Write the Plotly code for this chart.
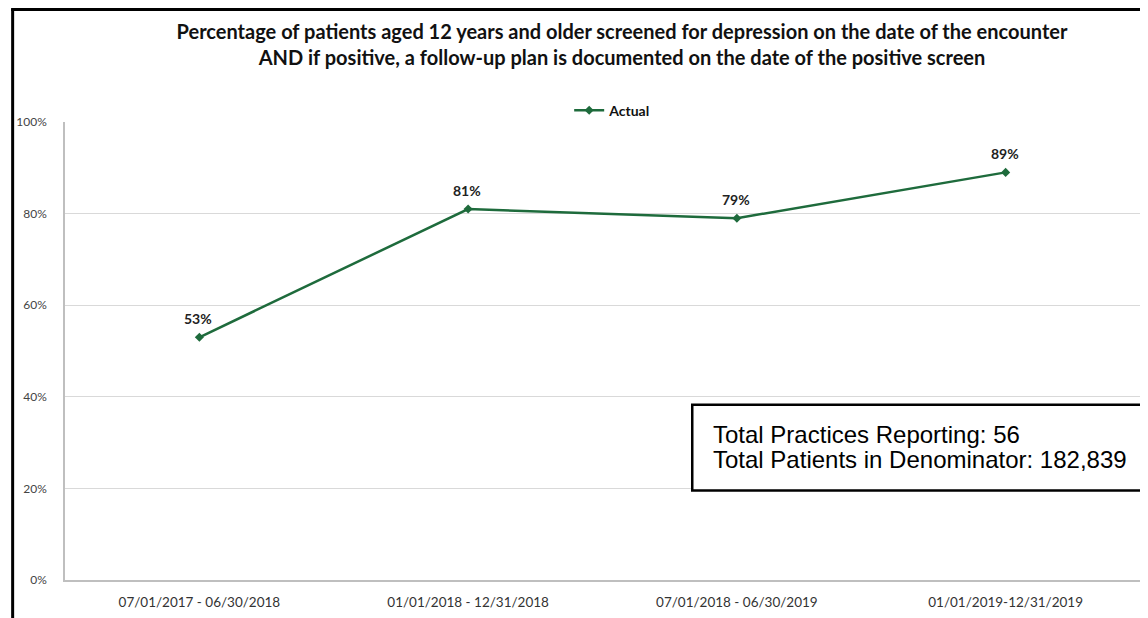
import plotly.graph_objects as go

periods = ["07/01/2017 - 06/30/2018", "01/01/2018 - 12/31/2018",
           "07/01/2018 - 06/30/2019", "01/01/2019-12/31/2019"]
actual = [53, 81, 79, 89]
labels = ["53%", "81%", "79%", "89%"]
y_ticks = [0, 20, 40, 60, 80, 100]
y_tick_text = ["0%", "20%", "40%", "60%", "80%", "100%"]

green = "#1E6B3C"

fig = go.Figure()
fig.add_trace(go.Scatter(
    x=periods, y=actual, mode="lines+markers", name="Actual",
    line=dict(color=green, width=2.5),
    marker=dict(symbol="diamond", size=7, color=green),
    cliponaxis=False,
))

annotations = []
for p, v, t in zip(periods, actual, labels):
    annotations.append(dict(
        x=p, y=v, text=t, showarrow=False, yshift=19, xshift=-1,
        font=dict(family="Lato", size=14, color="#222222", weight="bold"),
        bgcolor="white", borderpad=1,
    ))

# plot area in figure px: x 54..1132, y 114..574
annotations += [
    dict(text="Total Practices Reporting: 56", xref="paper", yref="paper",
         x=(702-54)/1078, y=(574-428)/460, xanchor="left", yanchor="middle",
         showarrow=False, font=dict(family="Liberation Sans", size=24, color="black")),
    dict(text="Total Patients in Denominator: 182,839", xref="paper", yref="paper",
         x=(702-54)/1078, y=(574-453)/460, xanchor="left", yanchor="middle",
         showarrow=False, font=dict(family="Liberation Sans", size=24, color="black")),
]

fig.update_layout(
    width=1140, height=610,
    margin=dict(l=54, r=8, t=114, b=36),
    paper_bgcolor="white", plot_bgcolor="white",
    title=dict(
        text="Percentage of patients aged 12 years and older screened for depression on the date of the encounter<br>AND if positive, a follow-up plan is documented on the date of the positive screen",
        x=0.5386, xref="container", xanchor="center",
        y=0.949, yref="container", yanchor="top",
        font=dict(family="Lato", size=20, color="#111111", weight="bold"),
    ),
    showlegend=True,
    legend=dict(orientation="h", x=0.509, xanchor="center", y=0.99, yanchor="bottom",
                font=dict(family="Lato", size=14, color="#111111", weight="bold"),
                bgcolor="rgba(0,0,0,0)"),
    xaxis=dict(
        type="category", range=[-0.5, 3.5], showgrid=False,
        showline=True, linecolor="#BFBFBF", linewidth=1.5,
        ticks="", tickfont=dict(family="Lato", size=13.5, color="#333333"),
        ticklabelstandoff=9,
        fixedrange=True,
    ),
    yaxis=dict(
        range=[0, 100], tickvals=y_ticks, ticktext=y_tick_text,
        showgrid=True, gridcolor="#D9D9D9", gridwidth=1,
        showline=True, linecolor="#BFBFBF", linewidth=1.5,
        ticks="", tickfont=dict(family="Lato", size=12, color="#444444"),
        ticklabelstandoff=14,
        zeroline=False,
    ),
    shapes=[
        dict(type="line", xref="paper", yref="paper", x0=(1.5-54)/1078, x1=(1.5-54)/1078,
             y0=-0.2, y1=(574-0)/460, line=dict(color="black", width=3)),
        dict(type="line", xref="paper", yref="paper", x0=(0-54)/1078, x1=1.02,
             y0=(574-1)/460, y1=(574-1)/460, line=dict(color="black", width=3)),
        dict(type="rect", xref="paper", yref="paper",
             x0=(683-54)/1078, x1=1.02, y0=(574-484)/460, y1=(574-398)/460,
             line=dict(color="black", width=2.5), fillcolor="white", layer="above"),
    ],
    annotations=annotations,
)

fig.write_html("out.html")
